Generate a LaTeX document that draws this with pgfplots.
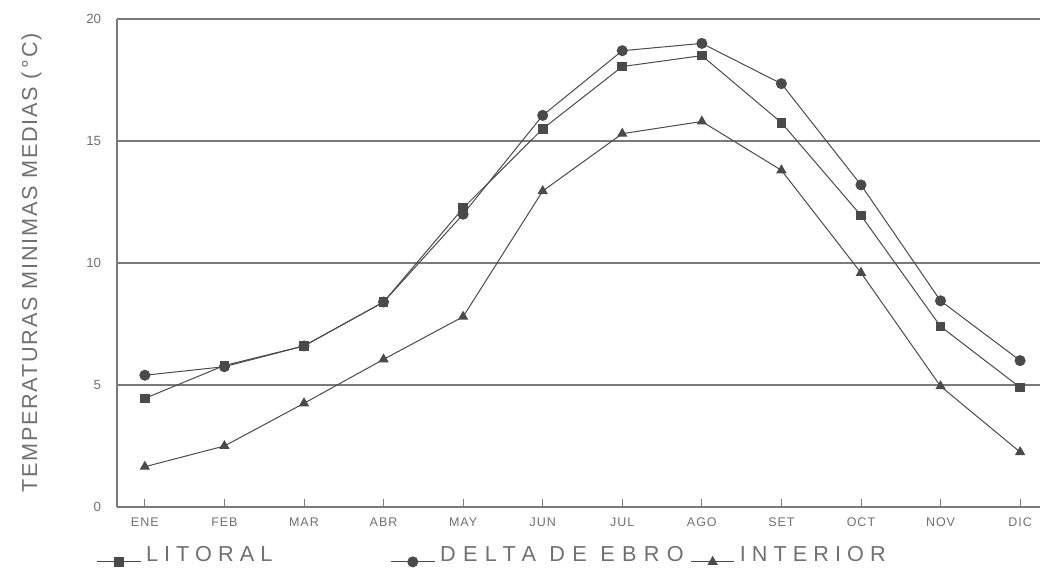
\documentclass[border=0pt]{standalone}
\usepackage{pgfplots}
\pgfplotsset{compat=1.18}
\usepackage{fontspec}
\setmainfont{Liberation Sans}
\newfontfamily\spaced[LetterSpace=28]{Liberation Sans}
\newfontfamily\spacedb[LetterSpace=34]{Liberation Sans}
\newfontfamily\tickf[LetterSpace=8]{Liberation Sans}
\definecolor{ink}{HTML}{4A4A4A}
\definecolor{txt}{HTML}{707070}
\definecolor{grd}{HTML}{7A7A7A}

\pgfplotstableread{
m litoral delta interior
1  4.45  5.40  1.65
2  5.80  5.75  2.50
3  6.60  6.60  4.25
4  8.40  8.40  6.05
5  12.25 12.00 7.80
6  15.50 16.05 12.95
7  18.05 18.70 15.30
8  18.50 19.00 15.80
9  15.75 17.35 13.80
10 11.95 13.20 9.60
11 7.40  8.45  4.95
12 4.90  6.00  2.25
}\temps

\begin{document}
\begin{tikzpicture}
\path[use as bounding box] (0,0) rectangle (624pt,345pt);
\begin{axis}[
    at={(70.2pt,40.8pt)}, anchor=south west,
    scale only axis,
    width=553.8pt, height=292.8pt,
    xmin=0.65, xmax=12.25,
    ymin=0, ymax=20,
    axis x line*=bottom, axis y line*=left,
    axis line style={grd, line width=0.9pt, -},
    xtick={1,...,12},
    xticklabels={ENE,FEB,MAR,ABR,MAY,JUN,JUL,AGO,SET,OCT,NOV,DIC},
    ytick={0,5,10,15,20},
    ymajorgrids,
    grid style={grd, line width=0.9pt},
    major tick length=5pt,
    xtick style={grd, line width=0.5pt},
    ytick style={draw=none},
    tick align=inside,
    x tick label style={font=\tickf\fontsize{7.5}{9}\selectfont, txt, yshift=-3pt},
    y tick label style={font=\fontsize{8}{10}\selectfont, txt, xshift=-6pt},
    /pgf/number format/assume math mode=true,
    ylabel={TEMPERATURAS MINIMAS MEDIAS (\,\textdegree C)},
    ylabel style={font=\tickf\fontsize{13}{15}\selectfont, txt},
    ylabel shift=20pt,
    legend columns=3,
    legend style={draw=none, fill=none, inner sep=0pt, outer sep=0pt,
        at={(axis description cs:-0.022,-0.10)}, anchor=west,
        font=\spaced\fontsize{13}{15}\selectfont, text=txt,
        nodes={inner sep=1pt},
        /tikz/every odd column/.style={column sep=2pt},
        /tikz/column 2/.style={column sep=70pt},
        /tikz/column 4/.style={column sep=3pt}},
    legend image code/.code={\draw[mark repeat=2, mark phase=2] plot coordinates {(0pt,-4pt) (13pt,-4pt) (26pt,-4pt)};},
    every axis plot/.append style={ink, line width=0.6pt, mark options={fill=ink, draw=ink}},
]
\addplot[mark=square*, mark size=2.6pt] table[x=m, y=litoral] {\temps};
\addlegendentry{LITORAL}
\addplot[mark=*, mark size=3pt] table[x=m, y=delta] {\temps};
\addlegendentry{\spacedb DELTA DE EBRO}
\addplot[mark=triangle*, mark size=3pt] table[x=m, y=interior] {\temps};
\addlegendentry{INTERIOR}
\end{axis}
\end{tikzpicture}
\end{document}
